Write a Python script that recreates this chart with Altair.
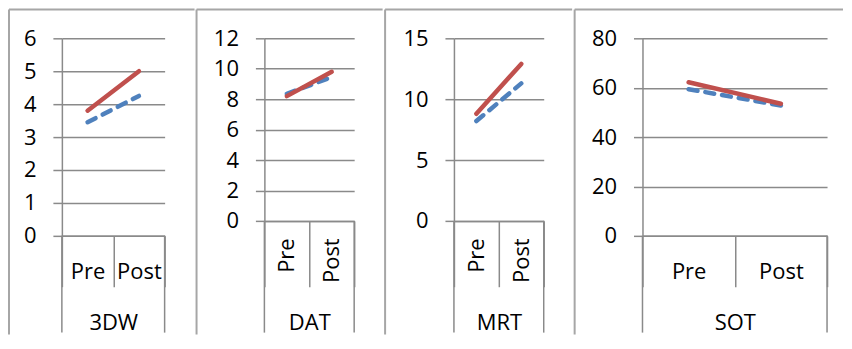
import altair as alt
import pandas as pd

# ---- data ----
tests = ["3DW", "DAT", "MRT", "SOT"]
phases = ["Pre", "Post"]
solid_pre = [3.8, 8.2, 8.8, 62.2]
solid_post = [5.0, 9.8, 12.9, 53.5]
dashed_pre = [3.45, 8.35, 8.2, 59.4]
dashed_post = [4.25, 9.45, 11.3, 52.8]
y_max = [6, 12, 15, 80]
y_step = [1, 2, 5, 20]

rows = []
for i, t in enumerate(tests):
    rows.append({"test": t, "phase": "Pre", "series": "solid", "value": solid_pre[i]})
    rows.append({"test": t, "phase": "Post", "series": "solid", "value": solid_post[i]})
    rows.append({"test": t, "phase": "Pre", "series": "dashed", "value": dashed_pre[i]})
    rows.append({"test": t, "phase": "Post", "series": "dashed", "value": dashed_post[i]})
df = pd.DataFrame(rows)

# ---- styling / geometry ----
FONT = "Open Sans"
FS = 22
GRID = "#8a8a8a"
FRAME = "#a6a6a6"
RED = "#C0504D"
BLUE = "#4F81BD"

panel_w = [103, 90, 90, 185]
panel_h = [198, 183, 183, 198]
left_pad = [53, 68, 69, 68]
right_pad = [30, 28.5, 28.5, 16]
rotated = [False, True, True, False]
TOP = 29
FRAME_BOTTOM = 297
AXIS_BOTTOM = 295
DIVIDER_END = 249
FLAT_LABEL = 234
ROT_LABEL = 200
TITLE_Y = 285


def panel(i):
    t = tests[i]
    W = panel_w[i]
    H = panel_h[i]
    d = df[df.test == t]
    tick = DIVIDER_END - H
    if rotated[i]:
        lab = dict(labelAngle=270, labelAlign="right", labelBaseline="middle",
                   labelPadding=(ROT_LABEL - H) - tick)
    else:
        lab = dict(labelAngle=0, labelAlign="center", labelBaseline="middle",
                   labelPadding=(FLAT_LABEL - H) - tick)
    x = alt.X(
        "phase:N", sort=phases, bandPosition=0.5,
        scale=alt.Scale(type="band", paddingInner=0, paddingOuter=0),
        axis=alt.Axis(
            title=t, titleY=TITLE_Y - H, titleBaseline="middle",
            titleFont=FONT, titleFontSize=FS, titleFontWeight="normal", titleColor="black",
            tickBand="extent", tickSize=tick, tickColor=GRID, tickWidth=1.5,
            domainColor=GRID, domainWidth=1.5, grid=False,
            labelFont=FONT, labelFontSize=FS, labelColor="black", labelOverlap=False,
            **lab,
        ),
    )
    y = alt.Y(
        "value:Q",
        scale=alt.Scale(domain=[0, y_max[i]], nice=False, zero=True),
        axis=alt.Axis(
            title=None, values=list(range(0, y_max[i] + 1, y_step[i])),
            tickSize=9, tickColor=GRID, tickWidth=1.5,
            domainColor=GRID, domainWidth=1.5,
            grid=True, gridColor=GRID, gridWidth=1.5,
            labelFont=FONT, labelFontSize=FS, labelColor="black", labelPadding=17,
        ),
    )
    base = alt.Chart(d)
    dashed = base.transform_filter(alt.datum.series == "dashed").mark_line(
        color=BLUE, strokeWidth=4.5, strokeDash=[9, 8], strokeCap="round"
    ).encode(x=x, y=y)
    solid = base.transform_filter(alt.datum.series == "solid").mark_line(
        color=RED, strokeWidth=4.5, strokeCap="round"
    ).encode(x=x, y=y)
    one = alt.Chart(pd.DataFrame({"k": [0]}))
    rules = [
        one.mark_rule(color=GRID, strokeWidth=1.5).encode(
            x=alt.value(0), y=alt.value(H), y2=alt.value(AXIS_BOTTOM)),
        one.mark_rule(color=GRID, strokeWidth=1.5).encode(
            x=alt.value(W), y=alt.value(H), y2=alt.value(AXIS_BOTTOM)),
        one.mark_rule(color=FRAME, strokeWidth=2).encode(
            x=alt.value(-left_pad[i]), y=alt.value(-TOP), y2=alt.value(FRAME_BOTTOM)),
        one.mark_rule(color=FRAME, strokeWidth=2).encode(
            x=alt.value(-left_pad[i]), x2=alt.value(W + right_pad[i]), y=alt.value(-TOP)),
    ]
    return alt.layer(*rules, dashed, solid).properties(width=W, height=H)


chart = alt.hconcat(*[panel(i) for i in range(4)], spacing=0).properties(
    padding={"left": 0, "top": 0, "right": 0, "bottom": 0}
).configure_view(stroke=None)

chart.save("out.html", embed_options={"renderer": "svg", "actions": False})
